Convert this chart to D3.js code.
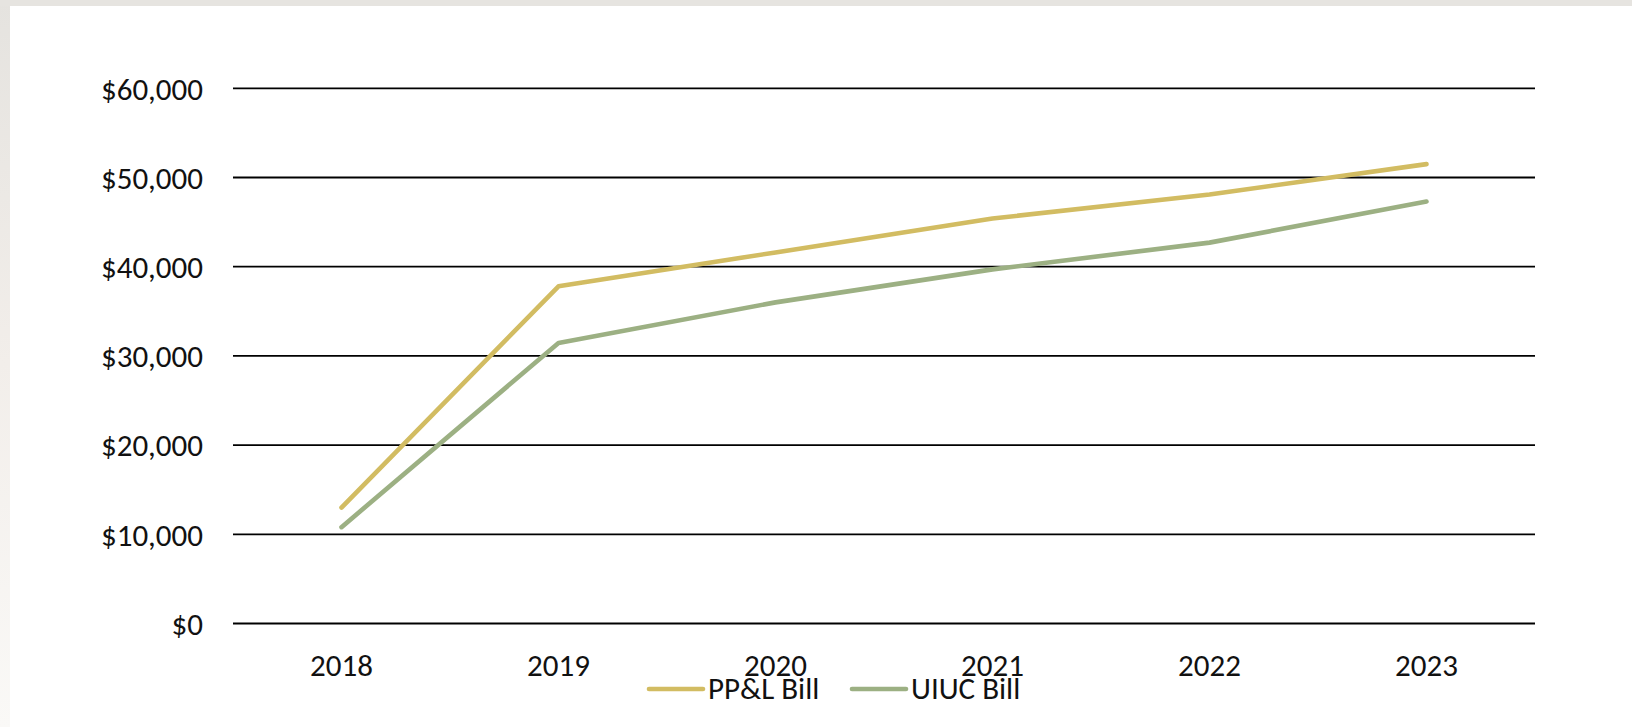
<!DOCTYPE html>
<html>
<head>
<meta charset="utf-8">
<script src="https://cdn.jsdelivr.net/npm/d3@7"></script>
<style>
  html, body { margin: 0; padding: 0; background: #fff; }
  svg { display: block; }
</style>
</head>
<body>
<svg id="chart" width="1632" height="727"></svg>
<script>
// ---- data ----
const years = ["2018", "2019", "2020", "2021", "2022", "2023"];
const pplBill = [13000, 37800, 41600, 45400, 48100, 51500];
const uiucBill = [10800, 31450, 36000, 39700, 42700, 47300];
const seriesNames = ["PP&L Bill", "UIUC Bill"];
const yTicks = [0, 10000, 20000, 30000, 40000, 50000, 60000];

// ---- font detection (Carlito is Calibri-metric; fallback Liberation Sans) ----
function hasFont(name) {
  const c = document.createElement("canvas").getContext("2d");
  const s = "$60,000 PP&L Bill UIUC";
  c.font = "40px monospace"; const w1 = c.measureText(s).width;
  c.font = `40px "${name}", monospace`; const w2 = c.measureText(s).width;
  return Math.abs(w1 - w2) > 0.5;
}
let fontFamily, fontSize;
if (hasFont("Carlito")) { fontFamily = "Carlito"; fontSize = 31; }
else { fontFamily = "Liberation Sans, Arial, sans-serif"; fontSize = 28; }

const colors = ["#D2BC62", "#9CB083"];

const svg = d3.select("#chart");
const W = 1632, H = 727;

// background: slide frame
const defs = svg.append("defs");
const grad = defs.append("linearGradient").attr("id", "leftGrad")
  .attr("x1", 0).attr("y1", 0).attr("x2", 0).attr("y2", 1);
grad.append("stop").attr("offset", "0%").attr("stop-color", "#E5E3DF");
grad.append("stop").attr("offset", "50%").attr("stop-color", "#F2EEEA");
grad.append("stop").attr("offset", "100%").attr("stop-color", "#FAF9F7");
svg.append("rect").attr("x", 0).attr("y", 0).attr("width", W).attr("height", H).attr("fill", "#fff");
svg.append("rect").attr("x", 0).attr("y", 0).attr("width", 10).attr("height", H).attr("fill", "url(#leftGrad)");
svg.append("rect").attr("x", 0).attr("y", 0).attr("width", W).attr("height", 6).attr("fill", "#E6E4E0");

// ---- scales ----
const x = d3.scaleBand().domain(years).range([233, 1535]).paddingInner(0).paddingOuter(0);
const y = d3.scaleLinear().domain([0, 60000]).range([623.5, 88.3]);

// gridlines
svg.append("g").selectAll("line").data(yTicks).join("line")
  .attr("x1", 233).attr("x2", 1535)
  .attr("y1", d => y(d)).attr("y2", d => y(d))
  .attr("stroke", "#000").attr("stroke-width", 1.8);

// y axis labels
const yAxis = d3.axisLeft(y).tickValues(yTicks).tickFormat(d3.format("$,")).tickSize(0).tickPadding(0);
const gy = svg.append("g").attr("transform", "translate(203,0)").call(yAxis);
gy.select(".domain").remove();
gy.selectAll("text").attr("font-family", fontFamily).attr("font-size", fontSize)
  .attr("fill", "#111").attr("dy", "0.35em");

// x axis labels
const xAxis = d3.axisBottom(x).tickSize(0).tickPadding(0);
const gx = svg.append("g").attr("transform", "translate(0,665)").call(xAxis);
gx.select(".domain").remove();
gx.selectAll("text").attr("font-family", fontFamily).attr("font-size", fontSize)
  .attr("fill", "#111").attr("dy", "0.35em").attr("y", 0);

// lines
const series = [pplBill, uiucBill];
const line = d3.line().x((d, i) => x(years[i]) + x.bandwidth() / 2).y(d => y(d));
svg.append("g").selectAll("path").data(series).join("path")
  .attr("d", d => line(d))
  .attr("fill", "none")
  .attr("stroke", (d, i) => colors[i])
  .attr("stroke-width", 4.6)
  .attr("stroke-linecap", "round")
  .attr("stroke-linejoin", "round");

// legend
const legendItems = [
  { name: seriesNames[0], color: colors[0], x0: 649 },
  { name: seriesNames[1], color: colors[1], x0: 852 }
];
const lg = svg.append("g").selectAll("g").data(legendItems).join("g")
  .attr("transform", d => `translate(${d.x0},689)`);
lg.append("line").attr("x1", 0).attr("x2", 54).attr("y1", 0).attr("y2", 0)
  .attr("stroke", d => d.color).attr("stroke-width", 4.6).attr("stroke-linecap", "round");
lg.append("text").attr("x", 59).attr("y", 0).attr("dy", "0.33em")
  .attr("font-family", fontFamily).attr("font-size", fontSize).attr("fill", "#111")
  .text(d => d.name);
</script>
</body>
</html>
